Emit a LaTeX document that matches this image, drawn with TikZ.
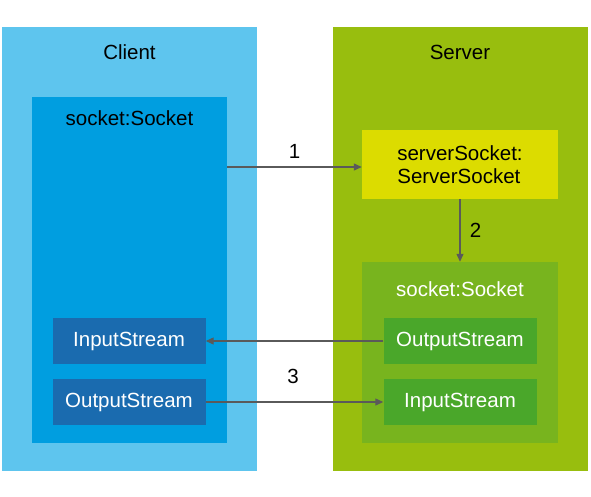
\documentclass[tikz,border=0pt]{standalone}
\usepackage{fontspec}
\setmainfont{Liberation Sans}
\usetikzlibrary{arrows.meta,positioning}
\definecolor{clientbg}{HTML}{5EC5EE}
\definecolor{clientsock}{HTML}{009EE0}
\definecolor{clientstream}{HTML}{1A6BAF}
\definecolor{serverbg}{HTML}{98BE0E}
\definecolor{serveryellow}{HTML}{DCDC00}
\definecolor{serversock}{HTML}{78B41E}
\definecolor{serverstream}{HTML}{4AA72A}
\definecolor{wire}{HTML}{5A5A5A}

\begin{document}
\begin{tikzpicture}[
		x=1pt,y=-1pt,
		font=\fontsize{20.5}{23}\selectfont,
		b/.style={rectangle,inner sep=0pt,draw=none},
		panel/.style={b,minimum width=255pt,minimum height=444pt},
		strm/.style={b,minimum width=153pt,minimum height=46pt,text=white},
		t/.style={inner sep=0pt,anchor=base},
		e/.style={-{Triangle[length=8pt,width=7pt]},draw=wire,line width=1.2pt}
		]
		\useasboundingbox (0,0) rectangle (591,497);

		% Client side
		\node[panel,fill=clientbg] (client) at (129.5,249) {};
		\node[b,fill=clientsock,minimum width=195pt,minimum height=346pt] (csock) at (129.5,270) {};
		\node[strm,fill=clientstream] (cin)  at (129,341) {InputStream};
		\node[strm,fill=clientstream] (cout) at (129,402) {OutputStream};
		\node[t] (clienttitle) at (129.5,60) {Client};
		\node[t] (csocktitle) at (129.5,126) {socket:Socket};

		% Server side
		\node[panel,fill=serverbg] (server) at (460,249) {};
		\node[b,fill=serveryellow,minimum width=196pt,minimum height=69pt,align=left] (ssock) at (460,164.5)
			{serverSocket:\\ServerSocket};
		\node[b,fill=serversock,minimum width=196pt,minimum height=181pt] (ssrv) at (460,352.5) {};
		\node[strm,fill=serverstream] (sout) at (460,341) {OutputStream};
		\node[strm,fill=serverstream] (sin)  at (460,402) {InputStream};
		\node[t] (servertitle) at (460,60) {Server};
		\node[t,text=white] (ssrvtitle) at (460,296) {socket:Socket};

		% connections
		\draw[e] ([yshift=-2.5pt]ssock.west -| csock.east) -- ([yshift=-2.5pt]ssock.west) node[midway,above=5pt] (l1) {1};
		\draw[e] (ssock.south) -- (ssrv.north) node[midway,right=6pt] (l2) {2};
		\draw[e] (sout.west) -- (cin.east);
		\draw[e] (cout.east) -- (sin.west);
		\node[t] (l3) at (293,383) {3};
	\end{tikzpicture}
\end{document}
